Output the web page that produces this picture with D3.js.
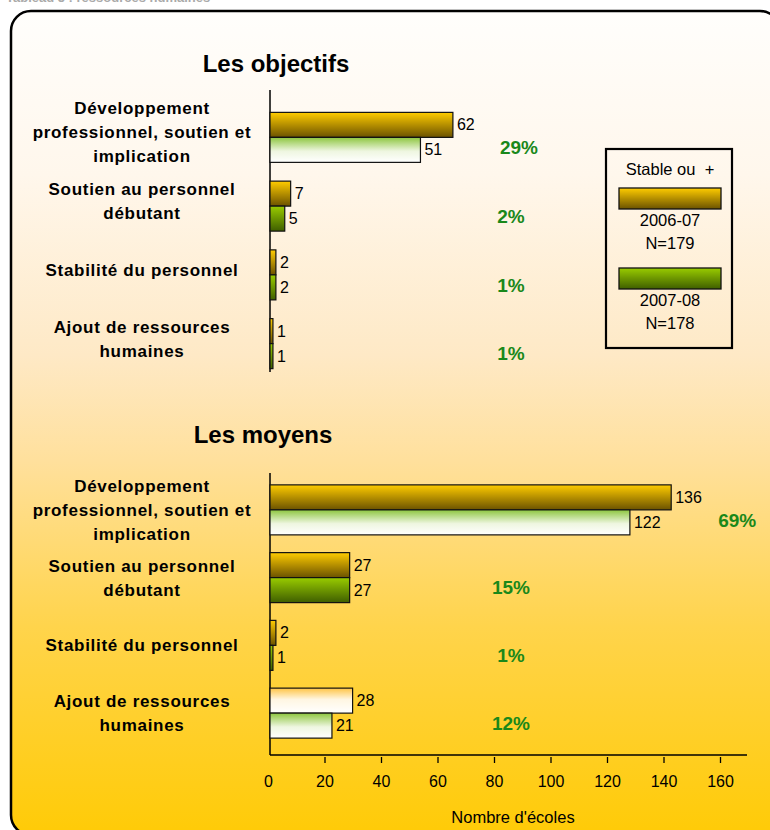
<!DOCTYPE html>
<html>
<head>
<meta charset="utf-8">
<script src="https://cdn.jsdelivr.net/npm/d3@7"></script>
<style>
  body { margin: 0; background: #fff; }
  svg { display: block; font-family: "Liberation Sans", Arial, sans-serif; }
</style>
</head>
<body>
<svg id="chart" width="770" height="830"></svg>
<script>
// Data.
const categoryLines = [
    ["Développement", "professionnel, soutien et", "implication"],
    ["Soutien au personnel", "débutant"],
    ["Stabilité du personnel"],
    ["Ajout de ressources", "humaines"]
];
const categories = categoryLines.map(l => l.join(" "));
const seriesLabels = ["2006-07", "2007-08"];
const sampleSizes = ["N=179", "N=178"];
const objectifs0607 = [62, 7, 2, 1];
const objectifs0708 = [51, 5, 2, 1];
const objectifsPct = ["29%", "2%", "1%", "1%"];
const moyens0607 = [136, 27, 2, 28];
const moyens0708 = [122, 27, 1, 21];
const moyensPct = ["69%", "15%", "1%", "12%"];
const axisTicks = [0, 20, 40, 60, 80, 100, 120, 140, 160];
const legendTitle = "Stable ou\u00a0 +";
const axisTitle = "Nombre d'écoles";

// bars drawn with the washed-out fill (panel-category-series)
const paleBars = ["obj-0-1", "moy-0-1", "moy-3-0", "moy-3-1"];

const svg = d3.select("#chart");
const defs = svg.append("defs");

function vGrad(id, stops, user) {
    const g = defs.append("linearGradient").attr("id", id)
        .attr("x1", 0).attr("y1", 0).attr("x2", 0).attr("y2", 1);
    if (user) g.attr("gradientUnits", "userSpaceOnUse").attr("y1", user[0]).attr("y2", user[1]);
    stops.forEach(s => g.append("stop").attr("offset", s[0]).attr("stop-color", s[1]));
}
vGrad("bg", [[0, "#fffefc"], [0.2, "#fff7ec"], [0.42, "#fee9c6"], [0.55, "#ffe09c"], [0.75, "#ffd44c"], [1, "#ffcb08"]], [10, 830]);
vGrad("gold", [[0, "#ffcc00"], [1, "#6b5200"]]);
vGrad("green", [[0, "#99cc00"], [1, "#3f5e00"]]);
vGrad("paleGold", [[0, "#ffc445"], [0.45, "#fff6e2"], [1, "#ffffff"]]);
vGrad("paleGreen", [[0, "#8dc63f"], [0.55, "#eef6e0"], [1, "#ffffff"]]);

// heading above the frame, cut off at the top edge in the picture
svg.append("text").attr("x", 6).attr("y", 2)
    .attr("font-size", 13).attr("font-weight", "bold").attr("fill", "#aaaaaa")
    .text("Tableau 5 : ressources humaines");

// frame
svg.append("rect")
    .attr("x", 11).attr("y", 11).attr("width", 769).attr("height", 824)
    .attr("rx", 20).attr("ry", 20)
    .attr("fill", "url(#bg)").attr("stroke", "#000").attr("stroke-width", 2.5);

// bar scale (shared by both panels)
const x = d3.scaleLinear().domain([0, 160]).range([270, 270 + 160 * 2.95]);
const barH = 25;

function panel(key, title, titleX, titleY, top, bottom, v1, v2, pct, axisTop, axisBottom, labelShift) {
    const y = d3.scaleBand().domain(categories).range([top, bottom]);
    const g = svg.append("g");

    g.append("text").attr("x", titleX).attr("y", titleY)
        .attr("text-anchor", "middle").attr("font-size", 24).attr("font-weight", "bold")
        .text(title);

    g.append("line").attr("x1", x(0)).attr("x2", x(0))
        .attr("y1", axisTop).attr("y2", axisBottom)
        .attr("stroke", "#000").attr("stroke-width", 1.5);

    const rows = categories.map((c, i) => ({ c, i, a: v1[i], b: v2[i], pct: pct[i], lines: categoryLines[i] }));
    const row = g.selectAll("g.row").data(rows).join("g").attr("class", "row");
    const mid = d => y(d.c) + y.bandwidth() / 2;

    // category labels
    row.append("text")
        .attr("text-anchor", "middle").attr("font-size", 17).attr("font-weight", "bold")
        .attr("letter-spacing", 0.7)
        .each(function (d) {
            const t = d3.select(this);
            const n = d.lines.length;
            d.lines.forEach((l, k) => {
                t.append("tspan").attr("x", 142)
                    .attr("y", mid(d) + labelShift + (k - (n - 1) / 2) * 24)
                    .attr("dy", "0.35em").text(l);
            });
        });

    // bars
    [["a", 0, "gold", "paleGold"], ["b", 1, "green", "paleGreen"]].forEach(([f, s, fill, pale]) => {
        row.append("rect")
            .attr("x", x(0))
            .attr("y", d => mid(d) - barH + s * barH)
            .attr("width", d => x(d[f]) - x(0))
            .attr("height", barH)
            .attr("fill", d => paleBars.includes(`${key}-${d.i}-${s}`) ? `url(#${pale})` : `url(#${fill})`)
            .attr("stroke", "#111").attr("stroke-width", 1.2);
        row.append("text")
            .attr("x", d => x(d[f]) + 4)
            .attr("y", d => mid(d) - barH / 2 + s * barH)
            .attr("dy", "0.35em").attr("font-size", 16)
            .text(d => d[f]);
    });

    // percentages
    row.append("text")
        .attr("x", d => Math.max(511, x(Math.max(d.a, d.b)) + 66))
        .attr("y", d => mid(d) + 10)
        .attr("dy", "0.35em").attr("text-anchor", "middle")
        .attr("font-size", 19).attr("font-weight", "bold").attr("fill", "#1a881a")
        .text(d => d.pct);
}

panel("obj", "Les objectifs", 276, 72, 103, 378, objectifs0607, objectifs0708, objectifsPct, 90, 372, -5);
panel("moy", "Les moyens", 263, 443, 476, 747, moyens0607, moyens0708, moyensPct, 473, 755, 0);

// bottom axis
const xAxisScale = d3.scaleLinear().domain([0, 160]).range([268, 720]);
svg.append("line").attr("x1", x(0)).attr("x2", 747).attr("y1", 755).attr("y2", 755)
    .attr("stroke", "#000").attr("stroke-width", 1.5);
const ax = svg.append("g").attr("transform", "translate(0,757)")
    .call(d3.axisBottom(xAxisScale).tickValues(axisTicks).tickSize(6).tickPadding(13));
ax.select(".domain").remove();
ax.selectAll(".tick line").attr("stroke", "#000").attr("stroke-width", 1.3)
    .attr("display", d => d === 0 ? "none" : null);
ax.selectAll(".tick text").attr("font-size", 16).attr("fill", "#000")
    .attr("font-family", "Liberation Sans, Arial, sans-serif");
svg.append("text").attr("x", 513).attr("y", 817).attr("dy", "0.35em")
    .attr("text-anchor", "middle").attr("font-size", 16.5).text(axisTitle);

// legend
const lg = svg.append("g");
lg.append("rect").attr("x", 606).attr("y", 149).attr("width", 126).attr("height", 199)
    .attr("fill", "none").attr("stroke", "#000").attr("stroke-width", 2.2);
lg.append("text").attr("x", 670).attr("y", 169).attr("dy", "0.35em")
    .attr("text-anchor", "middle").attr("font-size", 16.5).text(legendTitle);
const items = lg.selectAll("g.item").data(seriesLabels).join("g").attr("class", "item")
    .attr("transform", (d, i) => `translate(0, ${i * 80})`);
items.append("rect").attr("x", 619).attr("y", 188).attr("width", 102).attr("height", 21)
    .attr("fill", (d, i) => i === 0 ? "url(#gold)" : "url(#green)")
    .attr("stroke", "#111").attr("stroke-width", 1.3);
items.append("text").attr("x", 670).attr("y", 220).attr("dy", "0.35em")
    .attr("text-anchor", "middle").attr("font-size", 16.5).text(d => d);
items.append("text").attr("x", 670).attr("y", 243).attr("dy", "0.35em")
    .attr("text-anchor", "middle").attr("font-size", 16.5).text((d, i) => sampleSizes[i]);
</script>
</body>
</html>
